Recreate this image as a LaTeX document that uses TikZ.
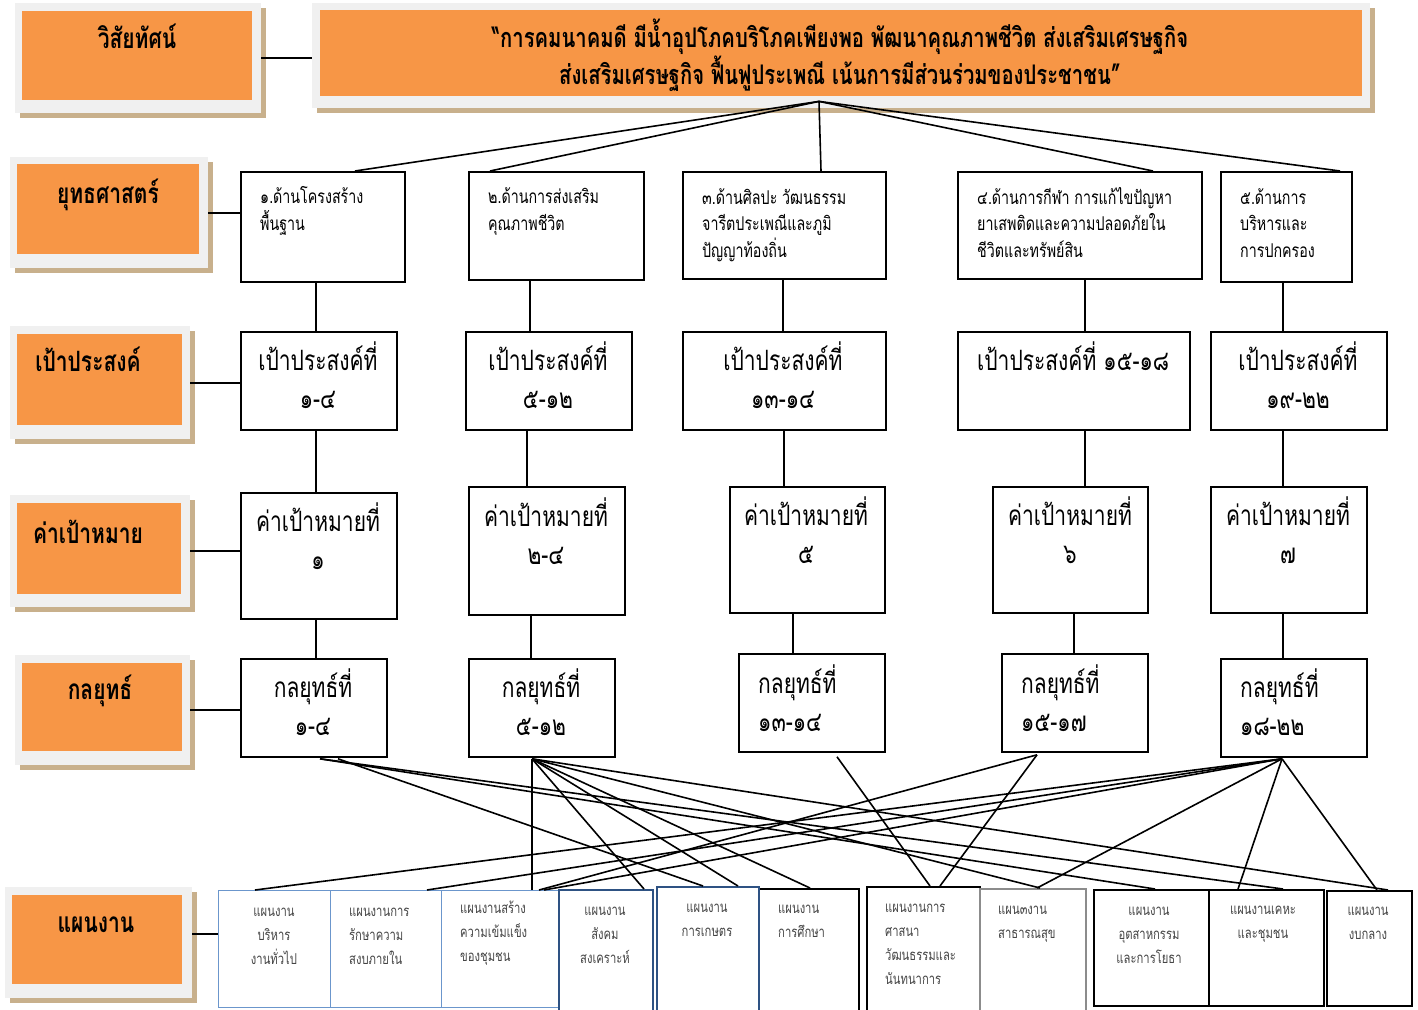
\documentclass[tikz,border=0pt]{standalone}
\usepackage{fontspec}
\newfontfamily\thai[Script=Thai,FakeStretch=0.75]{Loma}
\usetikzlibrary{calc}
\definecolor{orangec}{HTML}{F79646}
\definecolor{framegray}{HTML}{F0F0F0}
\definecolor{shadowc}{HTML}{C8B08C}
\definecolor{lblue}{HTML}{6B96CC}
\definecolor{dblue}{HTML}{2E5283}
\definecolor{pgray}{HTML}{8C8C8C}
\definecolor{ptext}{HTML}{454545}
\begin{document}
\begin{tikzpicture}[x=1pt,y=-1pt,
  frm/.style={fill=framegray,draw=none,inner sep=0pt,anchor=north west},
  org/.style={fill=orangec,draw=none,inner sep=0pt,anchor=north west},
  box/.style={draw=black,line width=1.8pt,inner sep=0pt,anchor=north west},
  pbox/.style={draw=black,line width=1.6pt,inner sep=0pt,anchor=north west},
  conn/.style={line width=1.6pt},
  ttl/.style={font=\thai\bfseries\fontsize{28}{32}\selectfont,inner sep=0pt,anchor=base},
  vis/.style={font=\thai\bfseries\fontsize{27}{34}\selectfont,inner sep=0pt,anchor=base,align=center},
  stx/.style={font=\thai\fontsize{19}{26.5}\selectfont,inner sep=0pt,anchor=base west,align=left},
  big/.style={font=\thai\fontsize{28}{38}\selectfont,inner sep=0pt,anchor=base,align=center},
  bigl/.style={font=\thai\fontsize{28}{38}\selectfont,inner sep=0pt,anchor=base west,align=left},
  ptx/.style={font=\thai\fontsize{15}{24}\selectfont,text=ptext,inner sep=0pt,anchor=base,align=center},
  ptxl/.style={font=\thai\fontsize{15}{24}\selectfont,text=ptext,inner sep=0pt,anchor=base west,align=left}]
\useasboundingbox (0,0) rectangle (1418,1009);
\fill[white] (0,0) rectangle (1418,1009);

% ---------- left label boxes ----------
\fill[shadowc] (20,8) rectangle (266,118);
\node[frm,minimum width=246,minimum height=110] (l1f) at (15,3) {};
\node[org,minimum width=230,minimum height=89] (l1) at (22,11) {};
\node[ttl] (l1t) at (137,48) {วิสัยทัศน์};

\fill[shadowc] (15,162) rectangle (213,273);
\node[frm,minimum width=198,minimum height=111] (l2f) at (10,157) {};
\node[org,minimum width=182,minimum height=90] (l2) at (17,164) {};
\node[ttl] (l2t) at (108,203) {ยุทธศาสตร์};

\fill[shadowc] (15,331) rectangle (195,444);
\node[frm,minimum width=180,minimum height=113] (l3f) at (10,326) {};
\node[org,minimum width=165,minimum height=91] (l3) at (17,334) {};
\node[ttl] (l3t) at (88,371) {เป้าประสงค์};

\fill[shadowc] (15,500) rectangle (195,612);
\node[frm,minimum width=180,minimum height=112] (l4f) at (10,495) {};
\node[org,minimum width=164,minimum height=91] (l4) at (17,503) {};
\node[ttl] (l4t) at (88,543) {ค่าเป้าหมาย};

\fill[shadowc] (20,660) rectangle (195,770);
\node[frm,minimum width=175,minimum height=110] (l5f) at (15,655) {};
\node[org,minimum width=160,minimum height=88] (l5) at (22,663) {};
\node[ttl] (l5t) at (100,699) {กลยุทธ์};

\fill[shadowc] (10,892) rectangle (197,1003);
\node[frm,minimum width=187,minimum height=111] (l6f) at (5,887) {};
\node[org,minimum width=170,minimum height=89] (l6) at (12,895) {};
\node[ttl] (l6t) at (96,932) {แผนงาน};

% ---------- vision ----------
\fill[shadowc] (317,8) rectangle (1375,113);
\node[frm,minimum width=1058,minimum height=105] (vf) at (312,3) {};
\node[org,minimum width=1042,minimum height=86] (vo) at (320,10) {};
\node[vis] (vt) at (840,84) {“การคมนาคมดี มีน้ำอุปโภคบริโภคเพียงพอ พัฒนาคุณภาพชีวิต ส่งเสริมเศรษฐกิจ\\ส่งเสริมเศรษฐกิจ ฟื้นฟูประเพณี เน้นการมีส่วนร่วมของประชาชน”};

% ---------- strategy boxes ----------
\node[box,minimum width=164,minimum height=110] (b1) at (240,171) {};
\node[box,minimum width=175,minimum height=108] (b2) at (468,171) {};
\node[box,minimum width=203,minimum height=107] (b3) at (682,171) {};
\node[box,minimum width=244,minimum height=107] (b4) at (957,171) {};
\node[box,minimum width=131,minimum height=110] (b5) at (1220,171) {};
\node[stx] (b1t) at (260,230) {๑.ด้านโครงสร้าง\\พื้นฐาน};
\node[stx] (b2t) at (488,230) {๒.ด้านการส่งเสริม\\คุณภาพชีวิต};
\node[stx] (b3t) at (702,257) {๓.ด้านศิลปะ วัฒนธรรม\\จารีตประเพณีและภูมิ\\ปัญญาท้องถิ่น};
\node[stx] (b4t) at (977,257) {๔.ด้านการกีฬา การแก้ไขปัญหา\\ยาเสพติดและความปลอดภัยใน\\ชีวิตและทรัพย์สิน};
\node[stx] (b5t) at (1240,257) {๕.ด้านการ\\บริหารและ\\การปกครอง};

% ---------- objectives ----------
\node[box,minimum width=156,minimum height=98] (o1) at (240,331) {};
\node[box,minimum width=166,minimum height=98] (o2) at (465,331) {};
\node[box,minimum width=203,minimum height=98] (o3) at (682,331) {};
\node[box,minimum width=232,minimum height=98] (o4) at (957,331) {};
\node[box,minimum width=176,minimum height=98] (o5) at (1210,331) {};
\node[big] (o1t) at (318,408) {เป้าประสงค์ที่\\๑-๔};
\node[big] (o2t) at (548,408) {เป้าประสงค์ที่\\๕-๑๒};
\node[big] (o3t) at (783,408) {เป้าประสงค์ที่\\๑๓-๑๔};
\node[bigl] (o4t) at (977,370) {เป้าประสงค์ที่ ๑๕-๑๘};
\node[big] (o5t) at (1298,408) {เป้าประสงค์ที่\\๑๙-๒๒};

% ---------- targets ----------
\node[box,minimum width=156,minimum height=126] (t1) at (240,492) {};
\node[box,minimum width=156,minimum height=128] (t2) at (468,486) {};
\node[box,minimum width=155,minimum height=126] (t3) at (729,486) {};
\node[box,minimum width=155,minimum height=126] (t4) at (992,486) {};
\node[box,minimum width=156,minimum height=126] (t5) at (1210,486) {};
\node[big] (t1t) at (318,569) {ค่าเป้าหมายที่\\๑};
\node[big] (t2t) at (546,564) {ค่าเป้าหมายที่\\๒-๔};
\node[big] (t3t) at (806,563) {ค่าเป้าหมายที่\\๕};
\node[big] (t4t) at (1070,563) {ค่าเป้าหมายที่\\๖};
\node[big] (t5t) at (1288,563) {ค่าเป้าหมายที่\\๗};

% ---------- strategies (tactics) ----------
\node[box,minimum width=146,minimum height=98] (s1) at (240,658) {};
\node[box,minimum width=146,minimum height=98] (s2) at (468,658) {};
\node[box,minimum width=146,minimum height=98] (s3) at (738,653) {};
\node[box,minimum width=146,minimum height=98] (s4) at (1001,653) {};
\node[box,minimum width=146,minimum height=98] (s5) at (1220,658) {};
\node[big] (s1t) at (313,735) {กลยุทธ์ที่\\๑-๔};
\node[big] (s2t) at (541,735) {กลยุทธ์ที่\\๕-๑๒};
\node[bigl] (s3t) at (758,731) {กลยุทธ์ที่\\๑๓-๑๔};
\node[bigl] (s4t) at (1021,731) {กลยุทธ์ที่\\๑๕-๑๗};
\node[bigl] (s5t) at (1240,735) {กลยุทธ์ที่\\๑๘-๒๒};

% ---------- plan boxes ----------
\node[pbox,draw=lblue,line width=1pt,minimum width=112,minimum height=117] (p1) at (218,890) {};
\node[pbox,draw=lblue,line width=1pt,minimum width=111,minimum height=117] (p2) at (330,890) {};
\node[pbox,draw=lblue,line width=1pt,minimum width=117,minimum height=117] (p3) at (441,890) {};
\node[pbox,minimum width=100,minimum height=124] (p6) at (758,888) {};
\node[pbox,draw=dblue,minimum width=94,minimum height=122] (p4) at (558,889) {};
\node[pbox,draw=dblue,minimum width=102,minimum height=125] (p5) at (656,886) {};
\node[pbox,minimum width=113,minimum height=126] (p7) at (866,886) {};
\node[pbox,draw=pgray,minimum width=106,minimum height=124] (p8) at (979,888) {};
\node[pbox,minimum width=115,minimum height=116] (p9) at (1093,889) {};
\node[pbox,minimum width=115,minimum height=116] (p10) at (1208,889) {};
\node[pbox,minimum width=85,minimum height=115] (p11) at (1326,890) {};
\node[ptx] (p1t) at (274,964) {แผนงาน\\บริหาร\\งานทั่วไป};
\node[ptxl] (p2t) at (349,964) {แผนงานการ\\รักษาความ\\สงบภายใน};
\node[ptxl] (p3t) at (460,961) {แผนงานสร้าง\\ความเข้มแข็ง\\ของชุมชน};
\node[ptx] (p4t) at (605,963) {แผนงาน\\สังคม\\สงเคราะห์};
\node[ptx] (p5t) at (707,936) {แผนงาน\\การเกษตร};
\node[ptxl] (p6t) at (778,937) {แผนงาน\\การศึกษา};
\node[ptxl] (p7t) at (885,984) {แผนงานการ\\ศาสนา\\วัฒนธรรมและ\\นันทนาการ};
\node[ptxl] (p8t) at (998,938) {แผน๓งาน\\สาธารณสุข};
\node[ptx] (p9t) at (1149,963) {แผนงาน\\อุตสาหกรรม\\และการโยธา};
\node[ptx] (p10t) at (1263,938) {แผนงานเคหะ\\และชุมชน};
\node[ptx] (p11t) at (1368,939) {แผนงาน\\งบกลาง};

% ---------- label connectors ----------
\draw[conn] (l1f.east) -- (l1f.east -| vf.west);
\draw[conn] (l2f.east) -- (l2f.east -| b1.west);
\draw[conn] (l3f.east) -- (l3f.east -| o1.west);
\draw[conn] (l4f.east) -- (l4f.east -| t1.west);
\draw[conn] (l5f.east) -- (l5f.east -| s1.west);
\coordinate (l6c) at ($(l6f.east)+(0,-9)$);
\draw[conn] (l6c) -- (l6c -| p1.west);

% ---------- vision to strategies ----------
\coordinate (apex) at ($(vo.south west)+(499,5)$);
\draw[conn] (apex) -- ($(b1.north west)+(115,0)$);
\draw[conn] (apex) -- ($(b2.north west)+(22,0)$);
\draw[conn] (apex) -- ($(b3.north west)+(139,0)$);
\draw[conn] (apex) -- ($(b4.north west)+(196,0)$);
\draw[conn] (apex) -- ($(b5.north west)+(120,0)$);

% ---------- vertical connectors ----------
\coordinate (c1) at (316,0);
\coordinate (c2a) at (530,0);
\coordinate (c2b) at (527,0);
\coordinate (c2c) at (531,0);
\coordinate (c3a) at (783,0);
\coordinate (c3b) at (784,0);
\coordinate (c3c) at (793,0);
\coordinate (c4a) at (1085,0);
\coordinate (c4c) at (1074,0);
\coordinate (c5) at (1283,0);
\draw[conn] (c1 |- b1.south) -- (c1 |- o1.north);
\draw[conn] (c1 |- o1.south) -- (c1 |- t1.north);
\draw[conn] (c1 |- t1.south) -- (c1 |- s1.north);
\draw[conn] (c2a |- b2.south) -- (c2a |- o2.north);
\draw[conn] (c2b |- o2.south) -- (c2b |- t2.north);
\draw[conn] (c2c |- t2.south) -- (c2c |- s2.north);
\draw[conn] (c3a |- b3.south) -- (c3a |- o3.north);
\draw[conn] (c3b |- o3.south) -- (c3b |- t3.north);
\draw[conn] (c3c |- t3.south) -- (c3c |- s3.north);
\draw[conn] (c4a |- b4.south) -- (c4a |- o4.north);
\draw[conn] (c4a |- o4.south) -- (c4a |- t4.north);
\draw[conn] (c4c |- t4.south) -- (c4c |- s4.north);
\draw[conn] (c5 |- b5.south) -- (c5 |- o5.north);
\draw[conn] (c5 |- o5.south) -- (c5 |- t5.north);
\draw[conn] (c5 |- t5.south) -- (c5 |- s5.north);

% ---------- strategies to plans ----------
\coordinate (s1a) at ($(s1.south west)+(80,1)$);
\coordinate (s1b) at ($(s1.south west)+(98,1)$);
\coordinate (s2a) at ($(s2.south west)+(64,1)$);
\coordinate (s3a) at ($(s3.south west)+(99,4)$);
\coordinate (s4a) at ($(s4.south west)+(36,2)$);
\coordinate (s5a) at ($(s5.south west)+(62,1)$);
\draw[conn] (s1b) -- ($(p5.north west)+(47,0)$);
\draw[conn] (s1a) -- ($(p9.north west)+(62,0)$);
\draw[conn] (s1a) -- ($(p10.north west)+(75,0)$);
\draw[conn] (s2a) -- (s2a |- p3.north);
\draw[conn] (s2a) -- ($(p4.north west)+(86,0)$);
\draw[conn] (s2a) -- ($(p5.north west)+(82,0)$);
\draw[conn] (s2a) -- ($(p6.north west)+(52,0)$);
\draw[conn] (s2a) -- ($(p8.north west)+(61,0)$);
\draw[conn] (s2a) -- ($(p11.north west)+(62,0)$);
\draw[conn] (s3a) -- ($(p7.north west)+(64,0)$);
\draw[conn] (s4a) -- ($(p7.north west)+(74,0)$);
\draw[conn] (s4a) -- ($(p3.north west)+(98,0)$);
\draw[conn] (s5a) -- ($(p1.north west)+(37,0)$);
\draw[conn] (s5a) -- ($(p2.north west)+(97,0)$);
\draw[conn] (s5a) -- ($(p3.north west)+(103,0)$);
\draw[conn] (s5a) -- ($(p8.north west)+(58,0)$);
\draw[conn] (s5a) -- ($(p10.north west)+(30,0)$);
\draw[conn] (s5a) -- ($(p11.north west)+(51,0)$);
\end{tikzpicture}
\end{document}
